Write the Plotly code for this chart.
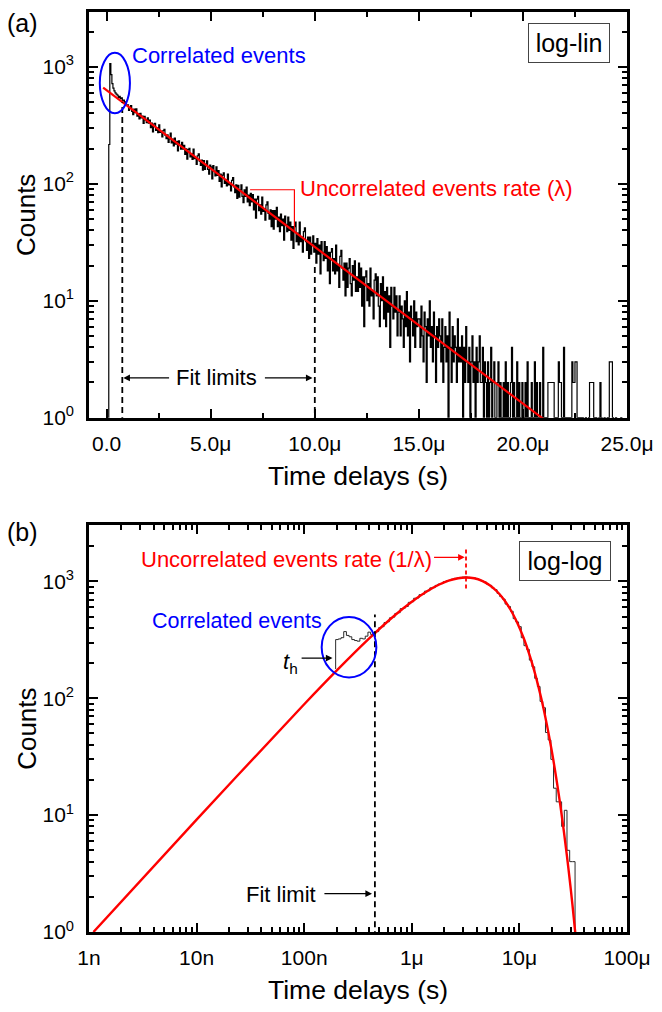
import numpy as np
import plotly.graph_objects as go

# ---------------- Panel (a): log-lin histogram ----------------
a_bin_start_us = 0.1
a_bin_width_us = 0.05
a_counts = [
    217, 1070, 860, 720, 660, 625, 600, 585, 575, 548, 560, 535, 545, 512, 520, 488, 502, 474,
    475, 425, 450, 467, 416, 391, 435, 406, 438, 379, 399, 360, 400, 367, 379, 329, 378, 353, 334, 367,
    330, 351, 303, 331, 278, 324, 330, 287, 301, 274, 319, 275, 279, 252, 285, 292, 260, 244, 263, 226,
    243, 272, 224, 242, 211, 246, 219, 231, 191, 233, 213, 198, 227, 198, 213, 179, 199, 163, 196, 201,
    170, 181, 162, 198, 164, 168, 147, 174, 181, 156, 144, 160, 131, 158, 133, 147, 157, 133, 121, 145,
    140, 110, 143, 128, 117, 140, 118, 130, 105, 121, 94, 119, 124, 101, 109, 96, 121, 98, 101, 87,
    107, 113, 94, 84, 98, 75, 97, 77, 89, 98, 78, 69, 89, 78, 94, 70, 80, 65, 83, 70,
    81, 60, 74, 51, 74, 78, 59, 66, 55, 77, 58, 61, 49, 66, 70, 56, 50, 60, 43, 59,
    41, 59, 50, 63, 43, 52, 39, 55, 44, 50, 33, 53, 45, 39, 52, 40, 47, 33, 43, 28,
    43, 47, 32, 38, 30, 47, 32, 35, 26, 39, 42, 32, 27, 35, 23, 35, 25, 31, 36, 26,
    31, 21, 34, 25, 30, 17, 32, 26, 22, 32, 23, 29, 18, 26, 14, 26, 28, 18, 23, 17,
    30, 18, 20, 13, 24, 27, 19, 15, 21, 11, 21, 13, 19, 23, 14, 11, 20, 15, 22, 12,
    16, 12, 21, 13, 19, 9, 16, 6, 16, 18, 10, 14, 9, 19, 11, 12, 7, 15, 17, 11,
    16, 9, 6, 14, 10, 16, 7, 12, 6, 13, 8, 11, 4, 13, 9, 7, 13, 8, 11, 5,
    8, 11, 5, 9, 7, 4, 10, 6, 12, 5, 8, 3, 9, 7, 5, 10, 4, 8, 6, 7,
    7, 4, 9, 5, 3, 8, 6, 2, 7, 5, 10, 4, 6, 3, 8, 5, 2, 6, 4, 7,
    5, 3, 7, 2, 4, 6, 3, 5, 1, 8, 4, 2, 6, 3, 5, 4, 2, 7, 3, 4,
    3, 5, 1, 4, 2, 6, 3, 2, 4, 1, 3, 5, 2, 3, 1, 4, 2, 3, 5, 2,
    2, 4, 1, 3, 2, 0, 3, 1, 2, 4, 1, 2, 3, 1, 0, 2, 3, 1, 2, 1,
    1, 2, 0, 3, 1, 2, 1, 0, 2, 4, 1, 2, 0, 1, 3, 1, 2, 0, 1, 2,
    1, 0, 2, 1, 3, 1, 0, 1, 2, 1, 0, 3, 1, 2, 1, 0, 2, 1, 1, 4,
    1, 0, 1, 0, 2, 2, 2, 2, 2, 2, 1, 0, 1, 1, 3, 2, 2, 1, 0, 4,
    0, 1, 1, 0, 1, 0, 1, 3, 2, 2, 3, 3, 1, 0, 1, 1, 0, 1, 0, 0,
    1, 0, 0, 1, 2, 2, 2, 2, 1, 0, 1, 0, 0, 1, 2, 1, 0, 0, 1, 0,
    0, 1, 0, 3, 3, 3, 1, 0, 0, 1, 0, 0, 0, 0, 1, 0, 0, 0, 0, 0,
]
a_fit_x_us = [-0.17, 21.0]
a_fit_counts = [664, 0.97]
a_fit_limits_us = [0.75, 10.0]
a_fit_limit_tops = [500, 20.6]
a_bracket_x_us = [6.89, 9.02, 9.02]
a_bracket_counts = [89, 89, 38.5]
a_xticks = [0, 5, 10, 15, 20, 25]
a_xticktext = ["0.0", "5.0μ", "10.0μ", "15.0μ", "20.0μ", "25.0μ"]
a_xminor = [2.5, 7.5, 12.5, 17.5, 22.5]

# ---------------- Panel (b): log-log histogram ----------------
b_first_edge_s = 1.96e-7
b_bins_per_decade = 40
b_onset_count = 178
b_counts = [
    318, 322, 330, 372, 345, 336, 318, 312, 308, 326, 322, 340, 368, 352, 365,
    372, 402, 410, 445, 452, 488, 495, 532, 540, 585, 592, 610, 662, 670, 718,
    722, 770, 776, 825, 832, 880, 884, 925, 948, 958, 995, 1012, 1020, 1046, 1062,
    1070, 1082, 1088, 1092, 1084, 1080, 1072, 1055, 1036, 1008, 990, 950, 925, 878, 850,
    790, 742, 705, 640, 610, 555, 480, 450, 410, 330, 282, 262, 212, 186, 148,
    126, 94, 83, 51, 44, 30, 17, 13, 13, 8, 11, 5, 4, 4, 0,
]
b_fit_t_us = [0.0011, 0.01, 0.1, 0.2, 0.4, 0.7, 1.0, 1.4, 1.8, 2.2, 2.7, 3.2, 3.8, 4.5,
              5.3, 6.2, 7.2, 8.3, 9.5, 11, 12.5, 14, 16, 18, 20, 22, 24, 26, 28, 30, 32, 34]
b_fit_counts = [1.0, 9.15, 88.9, 172.4, 323.9, 516.1, 671, 829.3, 941.0, 1014.9, 1065.5,
                1080.1, 1063.4, 1011.9, 928.3, 819.7, 696.3, 569.2, 447.8, 324.5, 230.6,
                161.6, 98.9, 59.5, 35.4, 20.8, 12.2, 7.06, 4.07, 2.34, 1.33, 0.76]
b_fit_limit_s = 4.54e-7
b_fit_limit_top = 521
b_peak_t_s = 3.19e-6
b_peak_marker_counts = [868, 1889]
b_xticks = [1e-9, 1e-8, 1e-7, 1e-6, 1e-5, 1e-4]
b_xticktext = ["1n", "10n", "100n", "1μ", "10μ", "100μ"]

y_ticks = [1, 10, 100, 1000]
y_ticktext = ["10<sup>0</sup>", "10<sup>1</sup>", "10<sup>2</sup>", "10<sup>3</sup>"]

# ---------------- helpers ----------------
W, H = 662, 1012
M_L, M_R, M_T, M_B = 89, 25, 9, 80
PW, PH = W - M_L - M_R, H - M_T - M_B


def px(xp):
    return (xp - M_L) / PW


def py(yp):
    return (H - M_B - yp) / PH


FLOOR = 0.3  # zero counts are drawn below the log axis


def step_xy(edges, counts, start_count=FLOOR):
    xs = [edges[0]] + list(edges[:-1]) + [edges[-1]]
    ys = [start_count] + [c if c > 0 else FLOOR for c in counts]
    ys = ys + [ys[-1]]
    return xs, ys


FONT = "Liberation Sans, Arial, sans-serif"
RED = "#ff0000"
BLUE = "#0000ff"

a_edges = a_bin_start_us + a_bin_width_us * np.arange(len(a_counts) + 1)
ax_x, ax_y = step_xy(a_edges, a_counts)

b_edges = b_first_edge_s * 10 ** (np.arange(len(b_counts) + 1) / b_bins_per_decade)
bx_x, bx_y = step_xy(b_edges, b_counts, start_count=b_onset_count)
b_fit_t_s = [t * 1e-6 for t in b_fit_t_us]

fig = go.Figure()

# panel a traces
fig.add_trace(go.Scatter(x=ax_x, y=ax_y, mode="lines", line=dict(color="black", width=1.2, shape="hv"),
                         xaxis="x", yaxis="y", hoverinfo="skip"))
fig.add_trace(go.Scatter(x=a_fit_x_us, y=a_fit_counts, mode="lines", line=dict(color=RED, width=2.2),
                         xaxis="x", yaxis="y"))
for xl, top in zip(a_fit_limits_us, a_fit_limit_tops):
    fig.add_trace(go.Scatter(x=[xl, xl], y=[0.9, top], mode="lines",
                             line=dict(color="black", width=1.8, dash="6px,4px"), xaxis="x", yaxis="y"))
fig.add_trace(go.Scatter(x=a_bracket_x_us, y=a_bracket_counts, mode="lines",
                         line=dict(color=RED, width=1.2), xaxis="x", yaxis="y"))

# panel b traces
fig.add_trace(go.Scatter(x=bx_x, y=bx_y, mode="lines", line=dict(color="#2a2a2a", width=1, shape="hv"),
                         xaxis="x2", yaxis="y2"))
fig.add_trace(go.Scatter(x=b_fit_t_s, y=b_fit_counts, mode="lines",
                         line=dict(color=RED, width=2.4, shape="spline"), xaxis="x2", yaxis="y2"))
fig.add_trace(go.Scatter(x=[b_fit_limit_s, b_fit_limit_s], y=[0.9, b_fit_limit_top], mode="lines",
                         line=dict(color="black", width=1.8, dash="6px,4px"), xaxis="x2", yaxis="y2"))
fig.add_trace(go.Scatter(x=[b_peak_t_s, b_peak_t_s], y=b_peak_marker_counts, mode="lines",
                         line=dict(color=RED, width=1.8, dash="4px,3px"), xaxis="x2", yaxis="y2"))

axis_common = dict(showline=True, linewidth=2.6, linecolor="black", mirror="allticks",
                   ticks="inside", ticklen=9, tickwidth=2.4, tickcolor="black",
                   showgrid=False, zeroline=False,
                   tickfont=dict(size=21, color="black", family=FONT))
minor_common = dict(ticks="inside", ticklen=5, tickwidth=2, tickcolor="black", showgrid=False)

y_minor = [m * 10 ** d for d in range(4) for m in range(2, 10) if m * 10 ** d < 3000]
b_x_minor = [m * 10.0 ** d for d in range(-9, -4) for m in range(2, 10)]

fig.update_layout(
    width=W, height=H, margin=dict(l=M_L, r=M_R, t=M_T, b=M_B),
    paper_bgcolor="white", plot_bgcolor="white", showlegend=False,
    font=dict(family=FONT, color="black"),
    xaxis=dict(axis_common, domain=[0, 1], anchor="y", range=[-0.85, 25.0],
               tickmode="array", tickvals=a_xticks, ticktext=a_xticktext,
               minor=dict(minor_common, tickvals=a_xminor), ticklabelstandoff=5),
    yaxis=dict(axis_common, domain=[py(416), 1], anchor="x", type="log", range=[0, 3.47],
               tickmode="array", tickvals=y_ticks, ticktext=y_ticktext,
               minor=dict(minor_common, tickvals=y_minor), ticklabelstandoff=8),
    xaxis2=dict(axis_common, domain=[0, 1], anchor="y2", type="log", range=[-9, -4],
                tickmode="array", tickvals=b_xticks, ticktext=b_xticktext,
                minor=dict(minor_common, tickvals=b_x_minor), ticklabelstandoff=5),
    yaxis2=dict(axis_common, domain=[0, py(524)], anchor="x2", type="log", range=[0, 3.48],
                tickmode="array", tickvals=y_ticks, ticktext=y_ticktext,
                minor=dict(minor_common, tickvals=y_minor), ticklabelstandoff=8),
)

ann = []


def text(x, y, s, size=22, color="black", xanchor="center", **kw):
    ann.append(dict(x=px(x), y=py(y), xref="paper", yref="paper", text=s, showarrow=False,
                    xanchor=xanchor, yanchor="middle", font=dict(size=size, color=color, family=FONT), **kw))


def arrow(xref, yref, x_head, y_head, x_tail, y_tail, color="black"):
    ann.append(dict(x=x_head, y=y_head, ax=x_tail, ay=y_tail, xref=xref, yref=yref,
                    axref=xref, ayref=yref, text="", showarrow=True, arrowhead=2,
                    arrowsize=1.1, arrowwidth=1.2, arrowcolor=color))


# panel a texts
text(21, 20, "(a)", size=25)
text(131, 53, "Correlated events", color=BLUE, xanchor="left")
text(302, 186, "Uncorrelated events rate (λ)", color=RED, xanchor="left")
text(219, 376, "Fit limits")
text(578, 40, "log-lin", size=25, bordercolor="#444", borderwidth=1, width=78, height=36)
text(25, 212.5, "Counts", size=26, textangle=-90)
text(362.5, 475, "Time delays (s)", size=26.5)
y_arrow_a = np.log10(2.19)
arrow("x", "y", a_fit_limits_us[0] + 0.05, y_arrow_a, 3.07, y_arrow_a)
arrow("x", "y", a_fit_limits_us[1] - 0.11, y_arrow_a, 7.53, y_arrow_a)

# panel b texts
text(21, 531, "(b)", size=25)
text(140, 558, "Uncorrelated events rate (1/λ)", color=RED, xanchor="left")
text(151, 620, "Correlated events", size=21.5, color=BLUE, xanchor="left")
text(294, 662, "<i>t</i><sub>h</sub>")
text(285, 894, "Fit limit")
text(574, 560, "log-log", size=25, bordercolor="#444", borderwidth=1, width=88, height=36)
text(25, 728, "Counts", size=26, textangle=-90)
text(362.5, 990, "Time delays (s)", size=26.5)
arrow("x2", "y2", np.log10(b_fit_limit_s) - 0.027, 0.328, -6.826, 0.328)
arrow("x2", "y2", -6.737, 2.344, -7.038, 2.344)
arrow("x2", "y2", np.log10(b_peak_t_s) - 0.012, 3.206, -5.807, 3.206, color=RED)

fig.update_layout(annotations=ann)

# blue ellipses marking correlated events
fig.add_shape(type="circle", xref="paper", yref="paper", x0=px(100), x1=px(130.7), y0=py(110.7), y1=py(50),
              line=dict(color=BLUE, width=2))
fig.add_shape(type="circle", xref="paper", yref="paper", x0=px(326), x1=px(381.7), y0=py(676.7), y1=py(616),
              line=dict(color=BLUE, width=2))

fig.write_html("out.html")
